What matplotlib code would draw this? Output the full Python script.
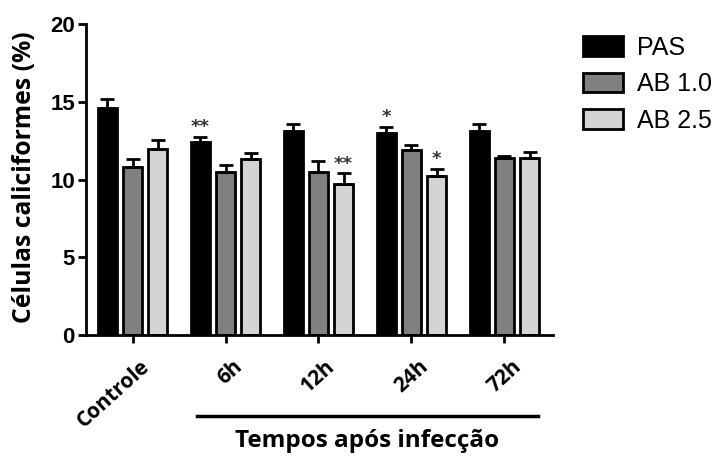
import matplotlib
matplotlib.use("Agg")
import matplotlib.pyplot as plt
import matplotlib.transforms as mtransforms
import numpy as np

# data
groups = ["Controle", "6h", "12h", "24h", "72h"]
series = ["PAS", "AB 1.0", "AB 2.5"]
pas = [14.6, 12.4, 13.1, 13.0, 13.1]
ab10 = [10.8, 10.5, 10.5, 11.9, 11.4]
ab25 = [12.0, 11.3, 9.7, 10.2, 11.4]
pas_err = [0.6, 0.35, 0.5, 0.4, 0.5]
ab10_err = [0.5, 0.45, 0.7, 0.35, 0.1]
ab25_err = [0.55, 0.4, 0.7, 0.5, 0.4]
yticks = [0, 5, 10, 15, 20]
# significance marks: (group index, series index, text)
stars = [(1, 0, "**"), (2, 2, "**"), (3, 0, "*"), (3, 2, "*")]

colors = ["#000000", "#808080", "#d4d4d4"]
values = [pas, ab10, ab25]
errors = [pas_err, ab10_err, ab25_err]

fig = plt.figure(figsize=(7.17, 4.57), dpi=100)
ax = fig.add_axes([0.12, 0.267, 0.651, 0.68])

x = np.arange(len(groups))
width = 0.2
offsets = [-0.27, 0.0, 0.27]
for vals, errs, col, off, name in zip(values, errors, colors, offsets, series):
    ax.bar(x + off, vals, width, color=col, edgecolor="black", linewidth=2,
           label=name, zorder=2)
    ax.errorbar(x + off, vals, yerr=[np.zeros(len(vals)), errs], fmt="none",
                ecolor="black", elinewidth=2, capsize=5, capthick=2, zorder=3)

for gi, si, txt in stars:
    top = values[si][gi] + errors[si][gi]
    ax.text(x[gi] + offsets[si], top + 0.05, txt, ha="center", va="bottom",
            fontsize=13, fontweight="bold", color="#333333")

ax.tick_params(axis="both", width=2, length=6, color="black", pad=2)
ax.tick_params(axis="x", length=6, pad=9)
ax.set_xlim(-0.5, 4.52)
ax.set_ylim(0, 20)
ax.set_yticks(yticks, labels=[str(v) for v in yticks], fontsize=16,
              fontweight="bold", family="Liberation Sans")
ax.set_xticks(x, labels=groups, rotation=42, ha="right", rotation_mode="anchor",
              fontsize=15, fontweight="bold", family="Open Sans")
shift = mtransforms.ScaledTranslation(7 / 100, 0, fig.dpi_scale_trans)
for lab in ax.get_xticklabels():
    lab.set_transform(lab.get_transform() + shift)
for s in ["top", "right"]:
    ax.spines[s].set_visible(False)
for s in ["left", "bottom"]:
    ax.spines[s].set_linewidth(2)

ax.set_ylabel("Células caliciformes (%)", fontsize=17.8, fontweight="bold",
              family="Open Sans")
ax.yaxis.set_label_coords(-0.104, 0.507)

# bracket line and label under the time points
fig.add_artist(plt.Line2D([197 / 717, 538 / 717], [1 - 416 / 457, 1 - 416 / 457],
                          color="black", linewidth=2.5))
fig.text(367 / 717, 1 - 441 / 457, "Tempos após infecção", ha="center",
         va="center", fontsize=17.5, fontweight="bold", family="Open Sans")

leg = ax.legend(loc="upper left", bbox_to_anchor=(1.064, 0.963), frameon=False,
                prop={"family": "Liberation Sans", "size": 18},
                handlelength=1.6, handleheight=0.84, labelspacing=0.5,
                handletextpad=0.56, borderaxespad=0.0, borderpad=0.0)

fig.savefig("out.png", dpi=100)
